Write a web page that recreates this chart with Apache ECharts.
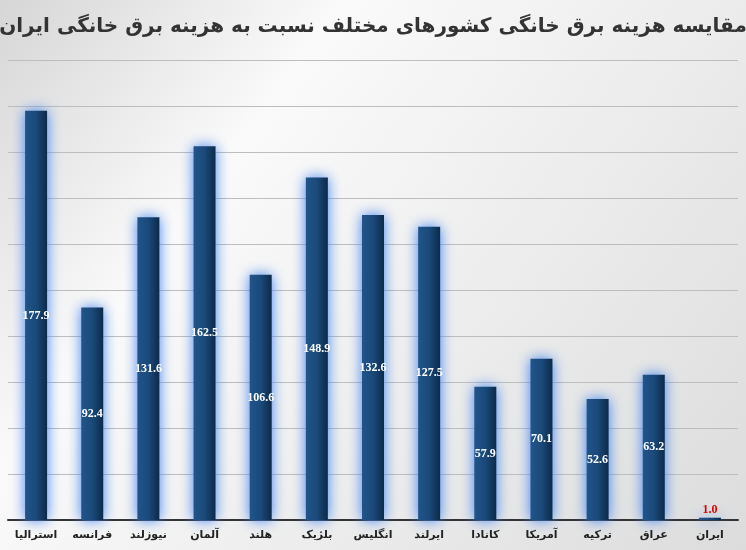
<!DOCTYPE html>
<html><head><meta charset="utf-8">
<script src="https://cdn.jsdelivr.net/npm/echarts@6/dist/echarts.min.js"></script>
<style>html,body{margin:0;padding:0;}#c{width:746px;height:550px;}</style>
</head><body><div id="c"></div>
<script>
const categories = ['استرالیا','فرانسه','نیوزلند','آلمان','هلند','بلژیک','انگلیس','ایرلند','کانادا','آمریکا','ترکیه','عراق','ایران'];
const values = [177.9,92.4,131.6,162.5,106.6,148.9,132.6,127.5,57.9,70.1,52.6,63.2,1.0];
const title = 'مقایسه هزینه برق خانگی کشورهای مختلف نسبت به هزینه برق خانگی ایران';
const chart = echarts.init(document.getElementById('c'));
chart.setOption({
  backgroundColor: new echarts.graphic.LinearGradient(0,0,1,1,[{offset:0,color:'#d6d6d6'},{offset:0.3,color:'#fafafa'},{offset:1,color:'#dcdcdc'}]),
  title:{text:title,left:'center',top:12,textStyle:{fontFamily:'DejaVu Sans',fontSize:20,fontWeight:'bold',color:'#333'}},
  grid:{left:8,right:8,top:60,bottom:30},
  xAxis:{type:'category',data:categories,axisLine:{lineStyle:{color:'#333',width:2}},axisTick:{show:false},
    axisLabel:{fontFamily:'DejaVu Sans',fontSize:11,fontWeight:'bold',color:'#222',margin:10}},
  yAxis:{type:'value',min:0,max:200,interval:20,axisLabel:{show:false},axisLine:{show:false},axisTick:{show:false},
    splitLine:{lineStyle:{color:'#bdbdbd'}}},
  series:[{type:'bar',data:values.map((v,i)=>({value:v,label:i===values.length-1?{position:'top',color:'#e00000',distance:2}:{}})),barWidth:22,
    itemStyle:{color:new echarts.graphic.LinearGradient(0,0,1,0,[{offset:0,color:'#22548a'},{offset:0.5,color:'#1a4a7a'},{offset:1,color:'#0d2a4a'}]),
      shadowColor:'rgba(60,130,240,1)',shadowBlur:14},
    label:{show:true,position:'inside',color:'#fff',fontFamily:'Liberation Sans Narrow',fontSize:12,fontWeight:'bold',formatter:p=>p.value.toFixed(1)}}]
});
</script></body></html>
